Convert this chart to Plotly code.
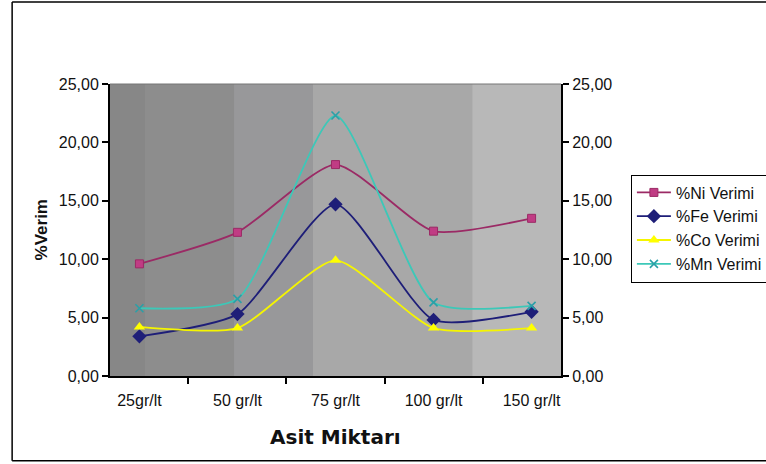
import plotly.graph_objects as go

categories = ["25gr/lt", "50 gr/lt", "75 gr/lt", "100 gr/lt", "150 gr/lt"]
ni = [9.6, 12.3, 18.1, 12.4, 13.5]
fe = [3.4, 5.3, 14.7, 4.8, 5.5]
co = [4.2, 4.1, 9.9, 4.1, 4.1]
mn = [5.8, 6.6, 22.3, 6.3, 6.0]
y_ticks = [0, 5, 10, 15, 20, 25]

FONT = "Liberation Sans, Arial, sans-serif"

fig = go.Figure()
series = [
    ("%Ni Verimi", ni, "#9b2a65", dict(symbol="square", size=8, color="#c03c84", line=dict(color="#9b2a65", width=1))),
    ("%Fe Verimi", fe, "#1e1e78", dict(symbol="diamond", size=11, color="#1e1e78")),
    ("%Co Verimi", co, "#f5f500", dict(symbol="triangle-up", size=10, color="#ffff00")),
    ("%Mn Verimi", mn, "#3cc8b8", dict(symbol="x-thin", size=8, color="#2aa0a8", line=dict(color="#2aa0a8", width=1.6))),
]
for name, vals, col, mk in series:
    fig.add_trace(go.Scatter(
        x=categories, y=vals, name=name, mode="lines+markers",
        line=dict(color=col, width=1.8, shape="spline", smoothing=0.6),
        marker=mk,
    ))

# invisible trace to activate right axis
fig.add_trace(go.Scatter(x=categories, y=ni, yaxis="y2", mode="lines",
                         line=dict(width=0), opacity=0, showlegend=False, hoverinfo="skip"))

# background bands (paper coords)
bands = [(0.0, 0.078, "#878787"), (0.078, 0.275, "#8d8d8d"), (0.275, 0.45, "#98989a"),
         (0.45, 0.803, "#a8a8a8"), (0.803, 1.0, "#b8b8b8")]
shapes = []
for x0, x1, c in bands:
    shapes.append(dict(type="rect", xref="paper", yref="paper", x0=x0, x1=x1, y0=0, y1=1,
                       fillcolor=c, line=dict(width=0), layer="below"))
shapes.append(dict(type="line", xref="paper", yref="paper", x0=0, x1=1, y0=1, y1=1,
                   line=dict(color="#777777", width=1)))
# outer chart border: top, left, bottom (right side runs off the picture)
bx0, bx1, by0, by1 = -0.217, 1.6, -0.29, 1.281
for (a, b, c, d) in [(bx0, by1, bx1, by1), (bx0, by0, bx1, by0), (bx0, by0, bx0, by1)]:
    shapes.append(dict(type="line", xref="paper", yref="paper", x0=a, y0=b, x1=c, y1=d,
                       line=dict(color="black", width=1.5), layer="above"))

axis_y = dict(range=[0, 25], tickvals=y_ticks, tickformat=".2f", showgrid=False, zeroline=False,
              showline=True, linecolor="black", linewidth=2, ticks="outside", ticklen=6,
              tickcolor="black", tickwidth=2, tickfont=dict(family=FONT, size=16, color="#111111"),
              fixedrange=True, automargin=False)

fig.update_layout(
    width=766, height=464,
    margin=dict(l=110, r=205, t=84, b=88, autoexpand=False),
    paper_bgcolor="white", plot_bgcolor="#8d8d8d",
    separators=",.",
    font=dict(family=FONT, size=16, color="#111111"),
    showlegend=True,
    legend=dict(x=1.155, y=0.69, xanchor="left", yanchor="top",
                bgcolor="white", bordercolor="black", borderwidth=1,
                font=dict(family=FONT, size=16, color="#111111"),
                tracegroupgap=0, itemwidth=34),
    xaxis=dict(type="category", tickson="boundaries", showgrid=False, zeroline=False,
               showline=True, linecolor="black", linewidth=2, ticks="outside", ticklen=6,
               tickcolor="black", tickwidth=2, tickfont=dict(family=FONT, size=16, color="#111111"),
               ticklabelstandoff=9, automargin=False),
    yaxis=axis_y,
    yaxis2=dict(axis_y, overlaying="y", side="right"),
    shapes=shapes,
    annotations=[
        dict(text="<b>Asit Miktarı</b>", xref="paper", yref="paper", x=0.5, y=-0.21,
             showarrow=False, font=dict(family="DejaVu Sans, sans-serif", size=20, color="#111111"),
             xanchor="center", yanchor="middle"),
        dict(text="<b>%Verim</b>", xref="paper", yref="paper", x=-0.152, y=0.5,
             showarrow=False, textangle=-90, font=dict(family=FONT, size=17, color="#111111"),
             xanchor="center", yanchor="middle"),
    ],
)

fig.write_html("out.html")
